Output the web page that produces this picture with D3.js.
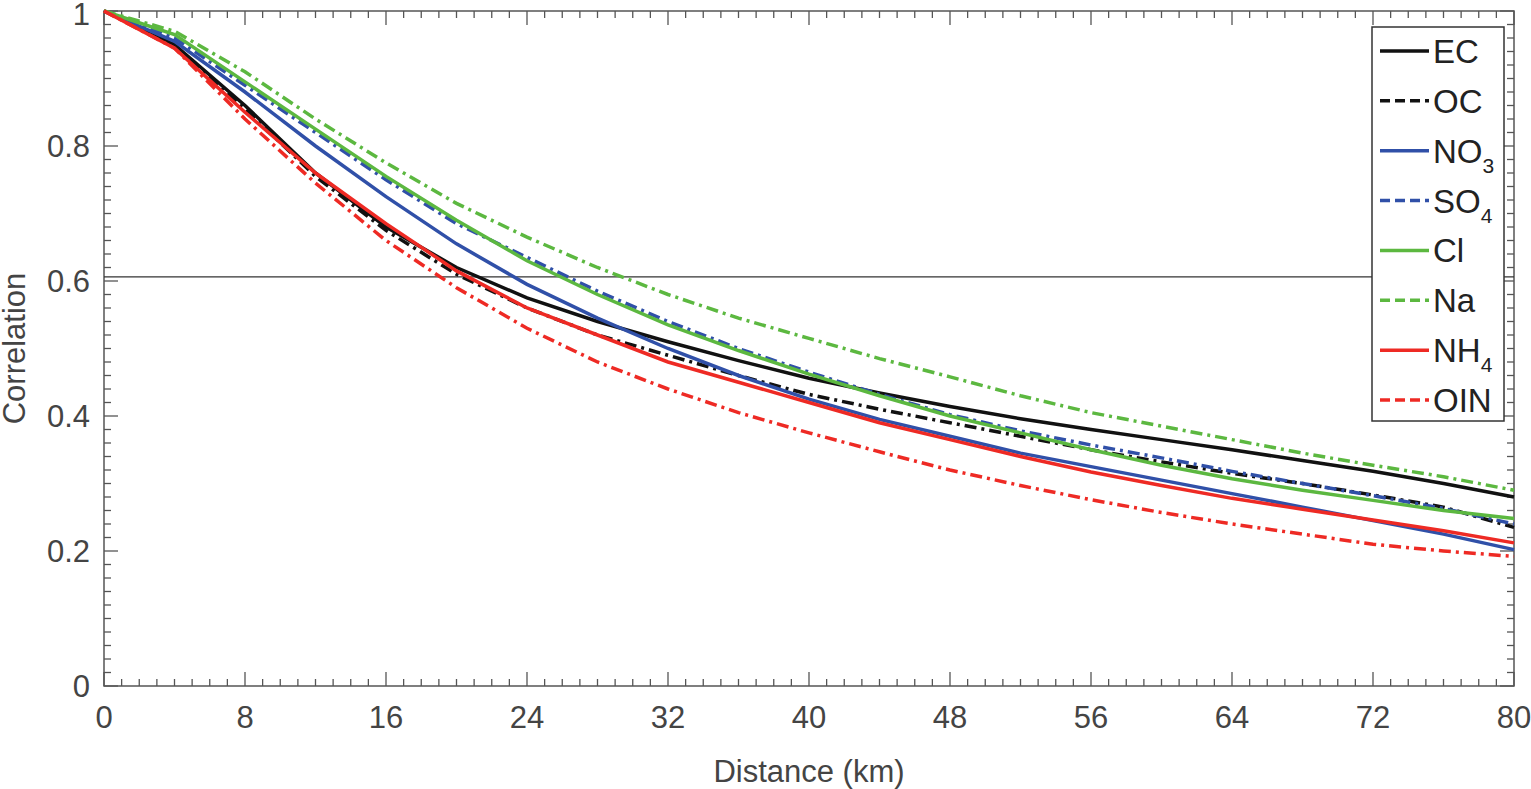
<!DOCTYPE html>
<html><head><meta charset="utf-8">
<script src="https://cdn.jsdelivr.net/npm/d3@7"></script>
<style>body{margin:0;background:#fff}text{font-family:"Liberation Sans",Arial,sans-serif}</style>
</head><body><svg id="c" width="1531" height="789"></svg>
<script>
var distance = d3.range(0, 81, 4);
var EC  = [1,0.95,0.86,0.76,0.68,0.62,0.575,0.54,0.51,0.482,0.456,0.434,0.414,0.396,0.38,0.365,0.35,0.334,0.318,0.30,0.28];
var OC  = [1,0.95,0.855,0.755,0.675,0.61,0.56,0.52,0.49,0.46,0.432,0.41,0.39,0.37,0.35,0.332,0.315,0.3,0.283,0.265,0.235];
var NO3 = [1,0.955,0.88,0.80,0.725,0.655,0.595,0.545,0.50,0.46,0.425,0.395,0.37,0.345,0.325,0.305,0.285,0.265,0.245,0.225,0.202];
var SO4 = [1,0.96,0.89,0.82,0.75,0.685,0.635,0.585,0.54,0.50,0.465,0.432,0.402,0.378,0.357,0.338,0.318,0.3,0.282,0.263,0.24];
var Cl  = [1,0.965,0.895,0.825,0.755,0.69,0.63,0.58,0.535,0.497,0.462,0.43,0.40,0.375,0.35,0.327,0.307,0.29,0.275,0.26,0.248];
var Na  = [1,0.97,0.91,0.84,0.775,0.715,0.665,0.62,0.58,0.545,0.515,0.485,0.458,0.43,0.405,0.385,0.365,0.345,0.327,0.31,0.29];
var NH4 = [1,0.945,0.85,0.76,0.685,0.615,0.56,0.52,0.48,0.45,0.42,0.39,0.365,0.34,0.317,0.297,0.278,0.262,0.246,0.23,0.212];
var OIN = [1,0.945,0.84,0.745,0.66,0.59,0.53,0.48,0.44,0.405,0.375,0.347,0.32,0.297,0.276,0.257,0.24,0.225,0.21,0.2,0.192];
var series = [
  {name:"EC", sub:"", v:EC, c:"#111", dash:null},
  {name:"OC", sub:"", v:OC, c:"#111", dash:"12,5,3,5"},
  {name:"NO", sub:"3", v:NO3, c:"#3050a8", dash:null},
  {name:"SO", sub:"4", v:SO4, c:"#3050a8", dash:"12,5,3,5"},
  {name:"Cl", sub:"", v:Cl, c:"#5cb840", dash:null},
  {name:"Na", sub:"", v:Na, c:"#5cb840", dash:"12,5,3,5"},
  {name:"NH", sub:"4", v:NH4, c:"#ee2a24", dash:null},
  {name:"OIN", sub:"", v:OIN, c:"#ee2a24", dash:"12,5,3,5"}
];
var xTicks = d3.range(0, 81, 8), yTicks = [0,0.2,0.4,0.6,0.8,1];
var threshold = 0.606;

var svg = d3.select("#c");
var L=104, R=1514, T=11, B=686;
var x = d3.scaleLinear().domain([0,80]).range([L,R]);
var y = d3.scaleLinear().domain([0,1]).range([B,T]);
var ax = "#555";

svg.append("rect").attr("x",L).attr("y",T).attr("width",R-L).attr("height",B-T)
  .attr("fill","none").attr("stroke",ax).attr("stroke-width",1.5);

// minor + major ticks on all four sides
var g = svg.append("g").attr("stroke",ax).attr("stroke-width",1.3);
d3.range(0,81,1).forEach(function(d){
  var len = d%8==0 ? 14 : 7;
  g.append("line").attr("x1",x(d)).attr("x2",x(d)).attr("y1",B).attr("y2",B-len);
  g.append("line").attr("x1",x(d)).attr("x2",x(d)).attr("y1",T).attr("y2",T+len);
});
d3.range(0,51,1).forEach(function(i){
  var d=i*0.02, len = i%10==0 ? 14 : 7;
  g.append("line").attr("y1",y(d)).attr("y2",y(d)).attr("x1",L).attr("x2",L+len);
  g.append("line").attr("y1",y(d)).attr("y2",y(d)).attr("x1",R).attr("x2",R-len);
});

svg.selectAll(".xt").data(xTicks).enter().append("text")
  .attr("x",function(d){return x(d);}).attr("y",B+42).attr("text-anchor","middle")
  .attr("font-size",31).attr("fill","#444").text(function(d){return d;});
svg.selectAll(".yt").data(yTicks).enter().append("text")
  .attr("x",L-14).attr("y",function(d){return Math.max(y(d)+11,25);}).attr("text-anchor","end")
  .attr("font-size",31).attr("fill","#444").text(function(d){return d;});
svg.append("text").attr("x",(L+R)/2).attr("y",782).attr("text-anchor","middle")
  .attr("font-size",31).attr("fill","#444").text("Distance (km)");
svg.append("text").attr("transform","translate(25,"+((T+B)/2)+") rotate(-90)")
  .attr("text-anchor","middle").attr("font-size",31).attr("fill","#444").text("Correlation");

svg.append("line").attr("x1",L).attr("x2",R).attr("y1",y(threshold)).attr("y2",y(threshold))
  .attr("stroke","#333").attr("stroke-width",1.2);

var line = d3.line().x(function(d,i){return x(distance[i]);}).y(function(d){return y(d);});
series.forEach(function(s){
  svg.append("path").attr("d",line(s.v)).attr("fill","none").attr("stroke",s.c)
    .attr("stroke-width",3.5).attr("stroke-dasharray",s.dash);
});

// legend
var lg = svg.append("g");
lg.append("rect").attr("x",1372).attr("y",27).attr("width",132).attr("height",394)
  .attr("fill","#fff").attr("stroke","#333").attr("stroke-width",1.5);
var ly = d3.scaleLinear().domain([0,7]).range([51,400]);
series.forEach(function(s,i){
  var yy = ly(i);
  lg.append("line").attr("x1",1380).attr("x2",1429).attr("y1",yy).attr("y2",yy)
    .attr("stroke",s.c).attr("stroke-width",3.5).attr("stroke-dasharray",s.dash?"10,5":null);
  var t = lg.append("text").attr("x",1433).attr("y",yy+12).attr("font-size",33).attr("fill","#222");
  t.append("tspan").text(s.name);
  if (s.sub) t.append("tspan").attr("dy",10).attr("font-size",21).text(s.sub);
});
</script></body></html>
